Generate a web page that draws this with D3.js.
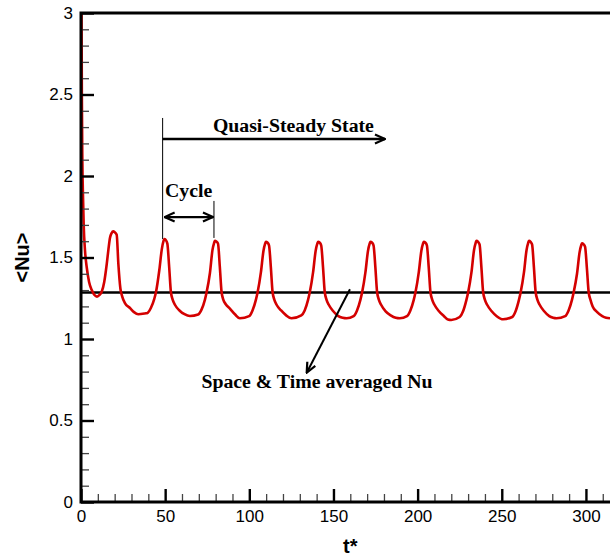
<!DOCTYPE html>
<html>
<head>
<meta charset="utf-8">
<script src="https://cdn.jsdelivr.net/npm/d3@7"></script>
<style>
  html, body { margin: 0; padding: 0; background: #fff; }
  svg { display: block; }
</style>
</head>
<body>
<div id="chart"></div>
<script>
// ---- data ----
const tValues = [
  0.0, 0.3, 0.5, 0.8, 1.2, 1.6, 2.4, 3.4, 4.8, 6.4, 8.0, 9.5, 11.0, 12.3, 13.8, 15.3, 16.3, 17.2, 18.2, 19.2,
  20.0, 21.2, 22.2, 23.4, 24.5, 26.1, 29.1, 31.5, 34.0, 38.0,
  39.5, 41.5, 43.5, 44.5, 46.5, 48.0, 49.0, 49.5, 50.3, 51.3, 52.4, 53.4, 54.5, 55.8, 58.5, 61.5, 64.7,
  69.6, 71.6, 73.6, 74.6, 76.6, 78.1, 79.1, 79.6, 80.4, 81.4, 82.5, 83.5, 84.6, 85.9, 88.6, 91.6, 94.4,
  99.9, 101.9, 103.9, 104.9, 106.9, 108.4, 109.4, 109.9, 110.7, 111.7, 112.8, 113.8, 114.9, 116.2, 118.9, 121.9, 125.0,
  130.9, 132.9, 134.9, 135.9, 137.9, 139.4, 140.4, 140.9, 141.7, 142.7, 143.8, 144.8, 145.9, 147.2, 149.9, 152.9, 155.5, 157.8,
  162.0, 164.0, 166.0, 167.0, 169.0, 170.5, 171.5, 172.0, 172.8, 173.8, 174.9, 175.9, 177.0, 178.3, 181.0, 184.0, 187.0, 189.4,
  193.7, 195.7, 197.7, 198.7, 200.7, 202.2, 203.2, 203.7, 204.5, 205.5, 206.6, 207.6, 208.7, 210.0, 212.7, 215.7, 218.0, 220.0,
  225.0, 227.0, 229.0, 230.0, 232.0, 233.5, 234.5, 235.0, 235.8, 236.8, 237.9, 238.9, 240.0, 241.3, 244.0, 247.0, 250.8,
  256.2, 258.2, 260.2, 261.2, 263.2, 264.7, 265.7, 266.2, 267.0, 268.0, 269.1, 270.1, 271.2, 272.5, 275.2, 278.2, 280.5, 282.5,
  287.7, 289.7, 291.7, 292.7, 294.7, 296.2, 297.2, 297.7, 298.5, 299.5, 300.6, 301.6, 302.7, 304.0, 306.7, 309.7, 312.0, 314.3
];
const nuValues = [
  3.50, 3.05, 2.50, 2.10, 1.87, 1.70, 1.54, 1.44, 1.35, 1.30, 1.27, 1.26, 1.27, 1.29, 1.35, 1.46, 1.55, 1.62, 1.65, 1.66,
  1.655, 1.64, 1.46, 1.31, 1.26, 1.22, 1.19, 1.165, 1.152, 1.157,
  1.16, 1.19, 1.245, 1.285, 1.42, 1.55, 1.60, 1.613, 1.608, 1.585, 1.44, 1.29, 1.24, 1.21, 1.175, 1.152, 1.141,
  1.15, 1.18, 1.24, 1.285, 1.405, 1.545, 1.59, 1.603, 1.598, 1.585, 1.44, 1.29, 1.24, 1.215, 1.185, 1.15, 1.127,
  1.14, 1.175, 1.24, 1.285, 1.41, 1.54, 1.585, 1.597, 1.592, 1.575, 1.44, 1.29, 1.24, 1.21, 1.175, 1.145, 1.127,
  1.145, 1.175, 1.24, 1.285, 1.41, 1.54, 1.585, 1.597, 1.592, 1.575, 1.44, 1.29, 1.24, 1.21, 1.17, 1.14, 1.13, 1.127,
  1.14, 1.175, 1.24, 1.285, 1.41, 1.54, 1.585, 1.597, 1.592, 1.575, 1.44, 1.29, 1.24, 1.21, 1.17, 1.145, 1.13, 1.127,
  1.14, 1.175, 1.24, 1.285, 1.41, 1.54, 1.585, 1.597, 1.592, 1.575, 1.44, 1.29, 1.24, 1.21, 1.17, 1.14, 1.12, 1.117,
  1.135, 1.17, 1.24, 1.285, 1.41, 1.545, 1.59, 1.603, 1.598, 1.58, 1.44, 1.29, 1.24, 1.21, 1.17, 1.14, 1.121,
  1.135, 1.17, 1.24, 1.285, 1.41, 1.545, 1.59, 1.603, 1.598, 1.58, 1.44, 1.29, 1.24, 1.21, 1.17, 1.14, 1.13, 1.127,
  1.14, 1.175, 1.24, 1.285, 1.40, 1.53, 1.575, 1.587, 1.582, 1.565, 1.43, 1.29, 1.24, 1.20, 1.165, 1.14, 1.13, 1.127
];
const averageNu = 1.285;

const xTicks = [0, 50, 100, 150, 200, 250, 300];
const yTicks = [0, 0.5, 1, 1.5, 2, 2.5, 3];

// annotation anchors in data units
const qssStart = 48.5, qssEnd = 180.6, qssTop = 2.356, qssArrowY = 2.227;
const cycleStart = 48.5, cycleEnd = 79.0, cycleTop = 1.847, cycleArrowY = 1.748;
const avgArrowFrom = [159.8, 1.305], avgArrowTo = [134.1, 0.793];

const width = 610, height = 560;
const margin = { top: 13, right: 0, bottom: 58, left: 81 };

const svg = d3.select("#chart").append("svg")
    .attr("width", width)
    .attr("height", height)
    .style("font-family", "'Liberation Sans', Arial, sans-serif");

const x = d3.scaleLinear().domain([0, 314.3]).range([margin.left, width - margin.right]);
const y = d3.scaleLinear().domain([0, 3]).range([height - margin.bottom, margin.top]);

const defs = svg.append("defs");
defs.append("clipPath").attr("id", "plot-clip")
  .append("rect")
    .attr("x", margin.left).attr("y", margin.top)
    .attr("width", width - margin.left - margin.right)
    .attr("height", height - margin.top - margin.bottom);

defs.append("marker")
    .attr("id", "head")
    .attr("viewBox", "0 0 12 12")
    .attr("refX", 11).attr("refY", 6)
    .attr("markerWidth", 12).attr("markerHeight", 12)
    .attr("markerUnits", "userSpaceOnUse")
    .attr("orient", "auto-start-reverse")
  .append("path")
    .attr("d", "M1,1.5 L11,6 L1,10.5")
    .attr("fill", "none")
    .attr("stroke", "#000")
    .attr("stroke-width", 2.2);

// ---- series ----
const points = tValues.map((t, i) => ({ t, nu: nuValues[i] }));

const line = d3.line()
    .x(d => x(d.t))
    .y(d => y(d.nu))
    .curve(d3.curveMonotoneX);

const plot = svg.append("g").attr("clip-path", "url(#plot-clip)");

plot.append("line")
    .attr("x1", x(0)).attr("x2", x(314.3))
    .attr("y1", y(averageNu)).attr("y2", y(averageNu))
    .attr("stroke", "#000")
    .attr("stroke-width", 2.5);

plot.append("path")
    .datum(points)
    .attr("fill", "none")
    .attr("stroke", "#d40000")
    .attr("stroke-width", 2.6)
    .attr("stroke-linejoin", "round")
    .attr("d", line);

// ---- axes (ticks inside) ----
const xMinor = d3.range(0, 315, 10).filter(v => v % 50 !== 0);
const yMinor = d3.range(0, 31).map(v => v / 10).filter(v => Math.round(v * 10) % 5 !== 0);

const xAxis = svg.append("g").attr("transform", `translate(0,${y(0)})`);
xAxis.call(d3.axisBottom(x).tickValues(xMinor).tickSize(-8).tickFormat(""));
xAxis.selectAll(".tick line").attr("stroke", "#444").attr("stroke-width", 1.3);
xAxis.select(".domain").remove();

const xMajor = svg.append("g").attr("transform", `translate(0,${y(0)})`);
xMajor.call(d3.axisBottom(x).tickValues(xTicks).tickSize(-13).tickPadding(0).tickFormat(d3.format("d")));
xMajor.selectAll(".tick line").attr("stroke", "#000").attr("stroke-width", 2.4);
xMajor.selectAll(".tick text")
    .attr("y", 20).attr("dy", 0)
    .attr("fill", "#000")
    .style("font-size", "17px");
xMajor.select(".domain").remove();

const yAxis = svg.append("g").attr("transform", `translate(${x(0)},0)`);
yAxis.call(d3.axisLeft(y).tickValues(yMinor).tickSize(-8).tickFormat(""));
yAxis.selectAll(".tick line").attr("stroke", "#444").attr("stroke-width", 1.3);
yAxis.select(".domain").remove();

const yMajor = svg.append("g").attr("transform", `translate(${x(0)},0)`);
yMajor.call(d3.axisLeft(y).tickValues(yTicks).tickSize(-13).tickPadding(8).tickFormat(d => d));
yMajor.selectAll(".tick line").attr("stroke", "#000").attr("stroke-width", 2.4);
yMajor.selectAll(".tick text")
    .attr("fill", "#000")
    .style("font-size", "17px");
yMajor.select(".domain").remove();

// frame
svg.append("path")
    .attr("d", `M${width},${y(3)} H${x(0)} V${y(0)} H${width}`)
    .attr("fill", "none")
    .attr("stroke", "#000")
    .attr("stroke-width", 3);

// axis titles
svg.append("text")
    .attr("x", x(160)).attr("y", 553)
    .attr("text-anchor", "middle")
    .style("font-size", "20px").style("font-weight", "bold")
    .text("t*");

svg.append("text")
    .attr("transform", `translate(29,${y(1.5)}) rotate(-90)`)
    .attr("text-anchor", "middle")
    .style("font-size", "20px").style("font-weight", "bold")
    .text("<Nu>");

// ---- annotations ----
const ann = svg.append("g")
    .style("font-family", "'Liberation Serif', 'Times New Roman', serif")
    .style("font-weight", "bold")
    .style("font-size", "19.8px");

// quasi-steady state
ann.append("line")
    .attr("x1", x(qssStart)).attr("x2", x(qssStart))
    .attr("y1", y(qssTop)).attr("y2", y(1.613))
    .attr("stroke", "#000").attr("stroke-width", 1);
ann.append("line")
    .attr("x1", x(qssStart)).attr("x2", x(qssEnd))
    .attr("y1", y(qssArrowY)).attr("y2", y(qssArrowY))
    .attr("stroke", "#000").attr("stroke-width", 2.4)
    .attr("marker-end", "url(#head)");
ann.append("text")
    .attr("x", x(126.2)).attr("y", y(2.27))
    .attr("text-anchor", "middle")
    .text("Quasi-Steady State");

// cycle
ann.append("line")
    .attr("x1", x(cycleEnd)).attr("x2", x(cycleEnd))
    .attr("y1", y(cycleTop)).attr("y2", y(1.62))
    .attr("stroke", "#000").attr("stroke-width", 1);
ann.append("line")
    .attr("x1", x(cycleStart) + 2).attr("x2", x(cycleEnd) - 1)
    .attr("y1", y(cycleArrowY)).attr("y2", y(cycleArrowY))
    .attr("stroke", "#000").attr("stroke-width", 2.4)
    .attr("marker-start", "url(#head)")
    .attr("marker-end", "url(#head)");
ann.append("text")
    .attr("x", x(49.9)).attr("y", y(1.871))
    .text("Cycle");

// average
ann.append("line")
    .attr("x1", x(avgArrowFrom[0])).attr("y1", y(avgArrowFrom[1]))
    .attr("x2", x(avgArrowTo[0])).attr("y2", y(avgArrowTo[1]))
    .attr("stroke", "#000").attr("stroke-width", 2)
    .attr("marker-end", "url(#head)");
ann.append("text")
    .attr("x", x(140.2)).attr("y", y(0.699))
    .attr("text-anchor", "middle")
    .text("Space & Time averaged Nu");
</script>
</body>
</html>
